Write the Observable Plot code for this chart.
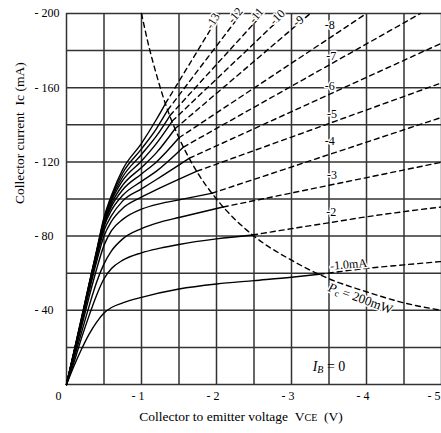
<!DOCTYPE html>
<html><head><meta charset="utf-8">
<script src="https://cdn.jsdelivr.net/npm/d3@7"></script>
<script src="https://cdn.jsdelivr.net/npm/@observablehq/plot@0.6"></script>
<style>html,body{margin:0;padding:0;background:#fff;} svg{display:block}</style>
</head><body><div id="chart"></div>
<script>
// ---- data: collector current Ic (mA, magnitude) vs VCE (V, magnitude) ----
// solid parts (inside Pc = 200 mW), [VCE, Ic]
const ib1  = [[0,0],[0.1,10],[0.2,19],[0.3,27],[0.4,33.5],[0.5,38.5],[0.6,41.5],[0.75,44],[1,47],[1.5,51.5],[2,54.2],[2.5,56],[3,57.8],[3.37,59.4]];
const ib2  = [[0,0],[0.1,12],[0.2,25],[0.3,37],[0.4,48],[0.5,57],[0.6,62.5],[0.75,67],[1,71],[1.25,73.5],[1.5,75.5],[2,78.5],[2.48,80.6]];
const ib3  = [[0,0],[0.1,14],[0.2,28],[0.3,42],[0.4,55],[0.5,65],[0.6,72],[0.75,78.5],[1,84],[1.25,87.5],[1.5,90],[2.09,95.7]];
const ib4  = [[0,0],[0.1,15.5],[0.2,31],[0.3,47],[0.4,62],[0.5,75],[0.6,83],[0.75,89],[1,94.5],[1.25,97.5],[1.5,99.5],[1.94,103.1]];
const ib5  = [[0,0],[0.1,16],[0.2,33],[0.3,50],[0.4,66],[0.5,80],[0.6,88],[0.75,95],[1,101],[1.2,105],[1.74,115]];
const ib6  = [[0,0],[0.1,16.5],[0.2,34],[0.3,51],[0.4,68],[0.5,83],[0.6,91],[0.75,99],[1,105.5],[1.2,110.5],[1.64,122]];
const ib7  = [[0,0],[0.1,17],[0.2,34],[0.3,52],[0.4,69],[0.5,85],[0.6,94],[0.75,102],[1,109.5],[1.2,115],[1.56,128]];
const ib8  = [[0,0],[0.1,17],[0.2,34.5],[0.3,52],[0.4,70],[0.5,86],[0.6,96],[0.75,105],[1,113.5],[1.2,120],[1.5,133]];
const ib9  = [[0,0],[0.1,17],[0.2,35],[0.3,53],[0.4,70.5],[0.5,87],[0.6,97.5],[0.75,107.5],[1,117],[1.2,125],[1.45,138]];
const ib10 = [[0,0],[0.1,17.5],[0.2,35],[0.3,53],[0.4,71],[0.5,88],[0.6,99],[0.75,110],[1,120.5],[1.2,130],[1.41,142]];
const ib11 = [[0,0],[0.1,17.5],[0.2,35],[0.3,53.5],[0.4,71],[0.5,88.5],[0.6,100],[0.75,112],[1,124],[1.2,134],[1.38,145]];
const ib12 = [[0,0],[0.1,17.5],[0.2,35.5],[0.3,54],[0.4,71.5],[0.5,89],[0.6,101],[0.75,114],[1,127],[1.2,138],[1.35,148]];
const ib13 = [[0,0],[0.1,18],[0.2,36],[0.3,54],[0.4,72],[0.5,90],[0.6,102],[0.75,116],[1,130],[1.2,143],[1.32,151.5]];
// dashed parts (beyond Pc = 200 mW)
const ib1d  = [[3.37,59.4],[4,62.6],[4.5,64.5],[5,66.3]];
const ib2d  = [[2.48,80.6],[3,84],[3.5,87.2],[4,90.4],[5,95.7]];
const ib3d  = [[2.09,95.7],[5,119.8]];
const ib4d  = [[1.94,103.1],[5,144]];
const ib5d  = [[1.74,115],[5,162.6]];
const ib6d  = [[1.64,122],[5,184]];
const ib7d  = [[1.56,128],[4.72,200]];
const ib8d  = [[1.5,133],[4.0,200]];
const ib9d  = [[1.45,138],[3.25,200]];
const ib10d = [[1.41,142],[2.92,200]];
const ib11d = [[1.38,145],[2.62,200]];
const ib12d = [[1.35,148],[2.33,200]];
const ib13d = [[1.32,151.5],[2.05,200]];
// Pc = 200 mW limit
const pcV = [1.0,1.1,1.2,1.33,1.5,1.75,2,2.5,3,3.5,4,4.5,5];
const pcI = [200,182,167,150,133,114,100,80,67,57,50,44,40];
// axes
const gridV = [0,0.5,1,1.5,2,2.5,3,3.5,4,4.5,5];
const gridI = [0,20,40,60,80,100,120,140,160,180,200];
const xTicks = [1,2,3,4];
const xTickLabels = ["- 1","- 2","- 3","- 4"];
const xLastTick = [5];
const xLastLabel = ["- 5"];
const yTicks = [40,80,120,160,200];
const yTickLabels = ["- 40","- 80","- 120","- 160","- 200"];
// curve labels
const curveLabels = ["-1.0mA","-2","-3","-4","-5","-6","-7","-8","-9","-10","-11","-12","-13"];
const labelV = [3.76,3.53,3.54,3.51,3.54,3.51,3.53,3.51,3.09,2.81,2.53,2.25,1.95];
const labelI = [64.7,92.7,112.7,131,146,161,176.8,193.5,196,198,199,199,196];
const labelRot = [-5,0,0,0,0,0,0,0,-35,-45,-50,-50,-58];
const xTitle = "Collector to emitter voltage";
const yTitle = "Collector current\u2002Ic (mA)";

const solids = [ib1,ib2,ib3,ib4,ib5,ib6,ib7,ib8,ib9,ib10,ib11,ib12,ib13];
const dashes = [ib1d,ib2d,ib3d,ib4d,ib5d,ib6d,ib7d,ib8d,ib9d,ib10d,ib11d,ib12d,ib13d];
const pc = pcV.map((v,i)=>({v, i: pcI[i]}));
const labels = curveLabels.map((t,k)=>({t, v: labelV[k], i: labelI[k], r: labelRot[k]}));

const svg = Plot.plot({
  width: 441, height: 433,
  marginLeft: 66, marginRight: 0, marginTop: 13, marginBottom: 49,
  x: {domain: [0,5], axis: null},
  y: {domain: [0,200], axis: null},
  style: {background: "white", color: "black", fontFamily: "'Liberation Serif', serif", fontSize: "12px"},
  marks: [
    Plot.ruleX(gridV, {x: d=>d, stroke: "#333", strokeWidth: 1.5}),
    Plot.ruleY(gridI, {y: d=>d, stroke: "#333", strokeWidth: 1.5}),
    ...solids.map(s => Plot.line(s, {x: d=>d[0], y: d=>d[1], curve: "monotone-x", stroke: "#000", strokeWidth: 1.4})),
    ...dashes.map(s => Plot.line(s, {x: d=>d[0], y: d=>d[1], curve: "monotone-x", stroke: "#000", strokeWidth: 1.4, strokeDasharray: "5,4"})),
    Plot.line(pc, {x: "v", y: "i", curve: "monotone-x", stroke: "#000", strokeWidth: 1.4, strokeDasharray: "5,4"}),
    Plot.text(xTicks, {x: d=>d, y: 0, text: (d,k)=>xTickLabels[k], textAnchor: "end", dx: 3, dy: 12, fontSize: 12}),
    Plot.text(xLastTick, {x: d=>d, y: 0, text: (d,k)=>xLastLabel[k], textAnchor: "end", dx: -1, dy: 12, fontSize: 12}),
    Plot.text(["0"], {x: 0, y: 0, text: d=>d, dx: -8, dy: 12, fontSize: 12}),
    Plot.text(yTicks, {x: 0, y: d=>d, text: (d,k)=>yTickLabels[k], textAnchor: "start", dx: -32, fontSize: 12}),
    Plot.text(labels, {x: "v", y: "i", text: "t", rotate: "r", fontSize: 12, stroke: "white", strokeWidth: 3, fill: "black"}),
    Plot.text(["Pc = 200mW"], {x: 3.92, y: 46.4, text: d=>d, rotate: 20, fontSize: 13, stroke: "white", strokeWidth: 3, fill: "black"}),
    Plot.text(["IB = 0"], {x: 3.5, y: 9.7, text: d=>d, fontSize: 14, fontStyle: "italic"}),
    Plot.text([xTitle], {frameAnchor: "bottom", text: d=>d, dx: -13, dy: 36, fontSize: 13.5}),
    Plot.text([yTitle], {frameAnchor: "left", text: d=>d, rotate: -90, dx: -47, dy: 5, fontSize: 13.5})
  ]
});
document.getElementById("chart").appendChild(svg);

// subscripts
d3.select(svg).selectAll("text").each(function(){
  const t = this.textContent, el = d3.select(this);
  if (t === xTitle) {
    el.text(null);
    el.append("tspan").text(xTitle + "\u2002V");
    el.append("tspan").attr("font-size", "10").text("CE");
    el.append("tspan").text("\u2002(V)");
  } else if (t === "IB = 0") {
    el.text(null);
    el.append("tspan").text("I");
    el.append("tspan").attr("font-size", "10").attr("dy", "2").text("B");
    el.append("tspan").attr("dy", "-2").attr("font-style", "normal").text(" = 0");
  } else if (t === "Pc = 200mW") {
    el.text(null);
    el.append("tspan").attr("font-style", "italic").text("P");
    el.append("tspan").attr("font-size", "9").attr("dy", "2").text("c");
    el.append("tspan").attr("dy", "-2").text(" = 200mW");
  }
});
</script></body></html>
